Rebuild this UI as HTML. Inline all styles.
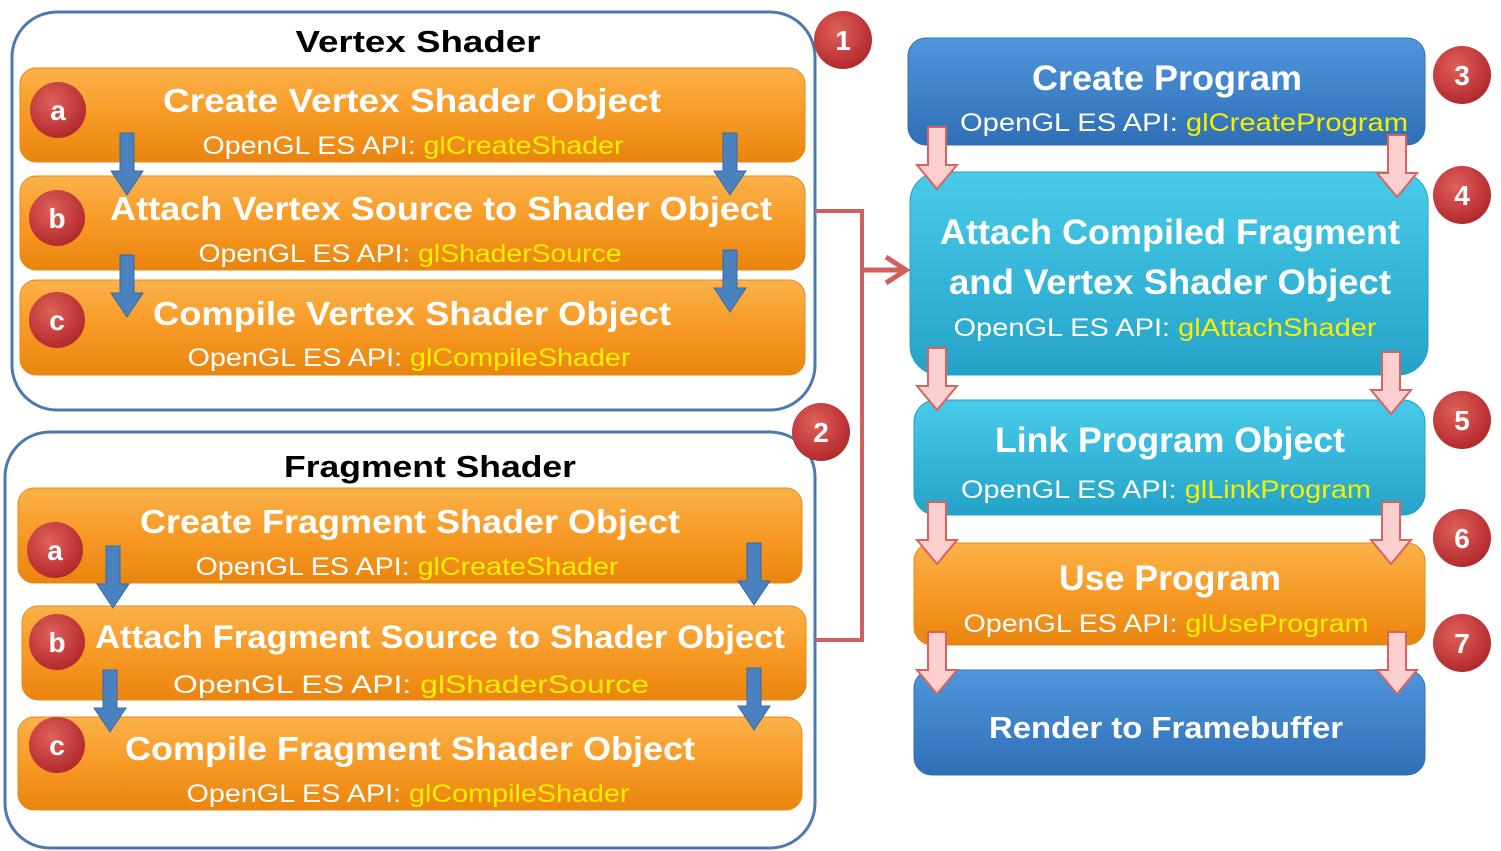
<!DOCTYPE html>
<html><head><meta charset="utf-8"><style>
html,body{margin:0;padding:0;background:#fff;width:1501px;height:851px;overflow:hidden}
svg{display:block}
.t{font-family:"Liberation Sans",sans-serif;font-weight:bold;fill:#fff;text-anchor:middle}
.s{font-family:"Liberation Sans",sans-serif;fill:#fff;text-anchor:middle;font-size:25px}
.y{fill:#f5f000}
.bd{font-family:"Liberation Sans",sans-serif;font-weight:bold;fill:#fff;text-anchor:middle;font-size:28px}
</style></head><body>
<svg width="1501" height="851" viewBox="0 0 1501 851" xmlns="http://www.w3.org/2000/svg">
<defs>
<linearGradient id="og" x1="0" y1="0" x2="0" y2="1"><stop offset="0" stop-color="#fbb24a"/><stop offset="0.5" stop-color="#f79a25"/><stop offset="1" stop-color="#e9850f"/></linearGradient>
<linearGradient id="bg" x1="0" y1="0" x2="0" y2="1"><stop offset="0" stop-color="#4f96dc"/><stop offset="1" stop-color="#2f6fb6"/></linearGradient>
<linearGradient id="cg" x1="0" y1="0" x2="0" y2="1"><stop offset="0" stop-color="#48cbea"/><stop offset="1" stop-color="#24a3c8"/></linearGradient>
<radialGradient id="rg" cx="0.4" cy="0.35" r="0.7"><stop offset="0" stop-color="#e0605a"/><stop offset="1" stop-color="#b0262a"/></radialGradient>
<g id="barr"><path d="M-7,0 H7 V38 H16 L0,62 L-16,38 H-7 Z" fill="#4a82bf" stroke="#3a6aa0" stroke-width="1"/></g>
<g id="parr"><path d="M-9,0 H9 V38 H20 L0,62 L-20,38 H-9 Z" fill="#fcd0cf" stroke="#d8625f" stroke-width="2"/></g>
</defs>

<!-- containers -->
<rect x="12" y="12" width="803" height="398" rx="45" fill="#fff" stroke="#4a7ab0" stroke-width="3"/>
<rect x="5" y="432" width="810" height="416" rx="45" fill="#fff" stroke="#4a7ab0" stroke-width="3"/>
<text x="418" y="52" font-family="Liberation Sans,sans-serif" font-weight="bold" font-size="31" text-anchor="middle" fill="#000" textLength="245" lengthAdjust="spacingAndGlyphs">Vertex Shader</text>
<text x="430" y="477" font-family="Liberation Sans,sans-serif" font-weight="bold" font-size="31" text-anchor="middle" fill="#000" textLength="292" lengthAdjust="spacingAndGlyphs">Fragment Shader</text>

<!-- vertex boxes -->
<rect x="20" y="68" width="785" height="94" rx="16" fill="url(#og)" stroke="#e6891a"/>
<rect x="20" y="176" width="785" height="94" rx="16" fill="url(#og)" stroke="#e6891a"/>
<rect x="20" y="280" width="785" height="95" rx="16" fill="url(#og)" stroke="#e6891a"/>
<text class="t" x="412" y="112" font-size="33" textLength="498" lengthAdjust="spacingAndGlyphs">Create Vertex  Shader Object</text>
<text class="s" x="413" y="154" textLength="421" lengthAdjust="spacingAndGlyphs">OpenGL ES API: <tspan class="y">glCreateShader</tspan></text>
<text class="t" x="441" y="220" font-size="33" textLength="662" lengthAdjust="spacingAndGlyphs">Attach Vertex Source to Shader Object</text>
<text class="s" x="410" y="262" textLength="423" lengthAdjust="spacingAndGlyphs">OpenGL ES API: <tspan class="y">glShaderSource</tspan></text>
<text class="t" x="412" y="325" font-size="33" textLength="518" lengthAdjust="spacingAndGlyphs">Compile Vertex Shader Object</text>
<text class="s" x="409" y="366" textLength="443" lengthAdjust="spacingAndGlyphs">OpenGL ES API: <tspan class="y">glCompileShader</tspan></text>

<!-- fragment boxes -->
<rect x="18" y="488" width="784" height="95" rx="16" fill="url(#og)" stroke="#e6891a"/>
<rect x="22" y="606" width="784" height="94" rx="16" fill="url(#og)" stroke="#e6891a"/>
<rect x="18" y="717" width="784" height="93" rx="16" fill="url(#og)" stroke="#e6891a"/>
<text class="t" x="410" y="533" font-size="33" textLength="540" lengthAdjust="spacingAndGlyphs">Create Fragment Shader Object</text>
<text class="s" x="407" y="575" textLength="423" lengthAdjust="spacingAndGlyphs">OpenGL ES API: <tspan class="y">glCreateShader</tspan></text>
<text class="t" x="440" y="648" font-size="32" textLength="690" lengthAdjust="spacingAndGlyphs">Attach Fragment Source to Shader Object</text>
<text class="s" x="411" y="693" textLength="476" lengthAdjust="spacingAndGlyphs" font-size="27">OpenGL ES API: <tspan class="y">glShaderSource</tspan></text>
<text class="t" x="410" y="760" font-size="33" textLength="570" lengthAdjust="spacingAndGlyphs">Compile Fragment Shader Object</text>
<text class="s" x="408" y="802" textLength="443" lengthAdjust="spacingAndGlyphs">OpenGL ES API: <tspan class="y">glCompileShader</tspan></text>

<!-- blue arrows -->
<use href="#barr" x="127" y="133"/><use href="#barr" x="730" y="133"/>
<use href="#barr" x="127" y="255"/><use href="#barr" x="730" y="250"/>
<use href="#barr" x="113" y="546"/><use href="#barr" x="754" y="543"/>
<use href="#barr" x="110" y="670"/><use href="#barr" x="754" y="668"/>

<!-- connector -->
<path d="M815,211 H862 V640 H815" fill="none" stroke="#d0605c" stroke-width="4"/>
<path d="M862,270 H906 M886,257 L906,270 L886,283" fill="none" stroke="#d0605c" stroke-width="5"/>

<!-- right column -->
<rect x="908" y="38" width="517" height="107" rx="18" fill="url(#bg)" stroke="#3271b0"/>
<rect x="910" y="172" width="518" height="203" rx="30" fill="url(#cg)" stroke="#24a0c4"/>
<rect x="914" y="400" width="511" height="115" rx="22" fill="url(#cg)" stroke="#24a0c4"/>
<rect x="914" y="543" width="511" height="102" rx="18" fill="url(#og)" stroke="#e6891a"/>
<rect x="914" y="670" width="511" height="105" rx="18" fill="url(#bg)" stroke="#3271b0"/>
<text class="t" x="1167" y="90" font-size="35" textLength="270" lengthAdjust="spacingAndGlyphs">Create Program</text>
<text class="s" x="1184" y="131" font-size="27" textLength="448" lengthAdjust="spacingAndGlyphs">OpenGL ES API: <tspan class="y">glCreateProgram</tspan></text>
<text class="t" x="1170" y="244" font-size="35" textLength="460" lengthAdjust="spacingAndGlyphs">Attach Compiled Fragment</text>
<text class="t" x="1170" y="294" font-size="35" textLength="442" lengthAdjust="spacingAndGlyphs">and Vertex Shader Object</text>
<text class="s" x="1165" y="336" font-size="27" textLength="423" lengthAdjust="spacingAndGlyphs">OpenGL ES API: <tspan class="y">glAttachShader</tspan></text>
<text class="t" x="1170" y="452" font-size="35" textLength="350" lengthAdjust="spacingAndGlyphs">Link Program Object</text>
<text class="s" x="1166" y="498" font-size="27" textLength="410" lengthAdjust="spacingAndGlyphs">OpenGL ES API: <tspan class="y">glLinkProgram</tspan></text>
<text class="t" x="1170" y="590" font-size="35" textLength="222" lengthAdjust="spacingAndGlyphs">Use Program</text>
<text class="s" x="1166" y="632" font-size="27" textLength="405" lengthAdjust="spacingAndGlyphs">OpenGL ES API: <tspan class="y">glUseProgram</tspan></text>
<text class="t" x="1166" y="738" font-size="31" textLength="354" lengthAdjust="spacingAndGlyphs">Render to Framebuffer</text>

<!-- pink arrows -->
<use href="#parr" x="937" y="127"/><use href="#parr" x="1397" y="135"/>
<use href="#parr" x="937" y="348"/><use href="#parr" x="1391" y="352"/>
<use href="#parr" x="937" y="502"/><use href="#parr" x="1391" y="502"/>
<use href="#parr" x="937" y="632"/><use href="#parr" x="1397" y="632"/>

<!-- badges -->
<g>
<circle cx="58" cy="110" r="28" fill="url(#rg)"/><text class="bd" x="58" y="120">a</text>
<circle cx="57" cy="218" r="28" fill="url(#rg)"/><text class="bd" x="57" y="228">b</text>
<circle cx="57" cy="320" r="28" fill="url(#rg)"/><text class="bd" x="57" y="330">c</text>
<circle cx="55" cy="550" r="28" fill="url(#rg)"/><text class="bd" x="55" y="560">a</text>
<circle cx="57" cy="642" r="28" fill="url(#rg)"/><text class="bd" x="57" y="652">b</text>
<circle cx="57" cy="745" r="28" fill="url(#rg)"/><text class="bd" x="57" y="755">c</text>
<circle cx="843" cy="40" r="29" fill="url(#rg)"/><text class="bd" x="843" y="50">1</text>
<circle cx="821" cy="432" r="29" fill="url(#rg)"/><text class="bd" x="821" y="442">2</text>
<circle cx="1462" cy="75" r="29" fill="url(#rg)"/><text class="bd" x="1462" y="85">3</text>
<circle cx="1462" cy="195" r="29" fill="url(#rg)"/><text class="bd" x="1462" y="205">4</text>
<circle cx="1462" cy="420" r="29" fill="url(#rg)"/><text class="bd" x="1462" y="430">5</text>
<circle cx="1462" cy="538" r="29" fill="url(#rg)"/><text class="bd" x="1462" y="548">6</text>
<circle cx="1462" cy="643" r="29" fill="url(#rg)"/><text class="bd" x="1462" y="653">7</text>
</g>
</svg>
</body></html>
